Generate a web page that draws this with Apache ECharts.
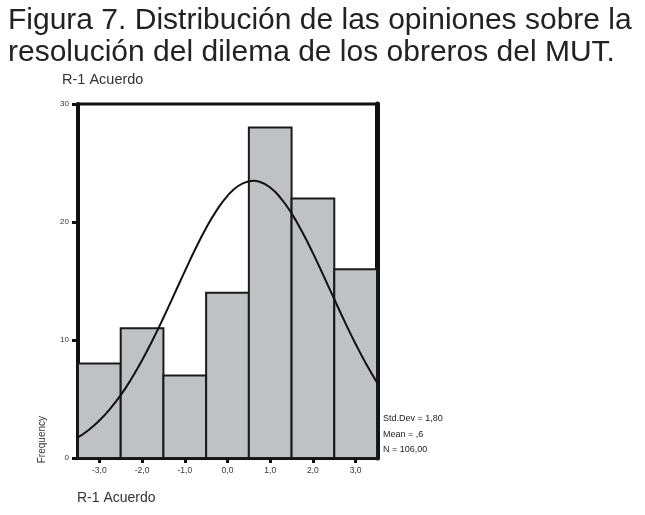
<!DOCTYPE html>
<html><head><meta charset="utf-8">
<script src="https://cdn.jsdelivr.net/npm/echarts@6/dist/echarts.min.js"></script>
<style>html,body{margin:0;padding:0;background:#fff}#c{width:645px;height:515px}</style>
</head><body><div id="c"></div>
<script>
const titleLines = ['Figura 7. Distribución de las opiniones sobre la', 'resolución del dilema de los obreros del MUT.'];
const subTitle = 'R-1 Acuerdo';
const xAxisTitle = 'R-1 Acuerdo';
const yAxisTitle = 'Frequency';
const binCenters = [-3, -2, -1, 0, 1, 2, 3];
const frequencies = [8, 11, 7, 14, 28, 22, 16];
const curveX = [-3.5,-3.25,-3,-2.75,-2.5,-2.25,-2,-1.75,-1.5,-1.25,-1,-0.75,-0.5,-0.25,0,0.25,0.5,0.6,0.75,1,1.25,1.5,1.75,2,2.25,2.5,2.75,3,3.25,3.5];
const curveY = [1.75,2.38,3.18,4.16,5.33,6.71,8.28,10.02,11.89,13.85,15.82,17.73,19.49,21.01,22.22,23.05,23.45,23.49,23.41,22.92,22.01,20.73,19.15,17.36,15.43,13.46,11.51,9.66,7.95,6.41];
const xTickValues = [-3, -2, -1, 0, 1, 2, 3];
const statsLines = ['Std.Dev = 1,80', 'Mean = ,6', 'N = 106,00'];

const chart = echarts.init(document.getElementById('c'));
const FONT = 'Liberation Sans, Arial, sans-serif';
const option = {
  animation: false,
  backgroundColor: '#fff',
  grid: { left: 78, right: 268, top: 104, bottom: 57, show: true, borderColor: '#111', borderWidth: 3, backgroundColor: 'transparent' },
  xAxis: {
    type: 'value', min: -3.5, max: 3.5,
    splitLine: { show: false },
    axisLine: { show: true, onZero: false, lineStyle: { color: '#111', width: 3 } },
    axisTick: { show: true, customValues: xTickValues, length: 5, lineStyle: { color: '#111', width: 3 } },
    axisLabel: { customValues: xTickValues, fontSize: 8.5, color: '#333', fontFamily: FONT, margin: 8,
      formatter: v => v.toFixed(1).replace('.', ',') }
  },
  yAxis: [
    {
      type: 'value', min: 0, max: 30, interval: 10,
      splitLine: { show: false },
      axisLine: { show: true, onZero: false, lineStyle: { color: '#111', width: 4 } },
      axisTick: { show: true, length: 6, lineStyle: { color: '#111', width: 3 } },
      axisLabel: { fontSize: 8, color: '#333', fontFamily: FONT, margin: 9 }
    },
    {
      type: 'value', min: 0, max: 30, interval: 10, position: 'right',
      splitLine: { show: false },
      axisLine: { show: true, onZero: false, lineStyle: { color: '#111', width: 5 } },
      axisTick: { show: false }, axisLabel: { show: false }
    }
  ],
  series: [
    {
      type: 'custom',
      data: binCenters.map((c, i) => [c, frequencies[i]]),
      renderItem: function (params, api) {
        const c = api.value(0), v = api.value(1);
        const p0 = api.coord([c - 0.5, v]);
        const p1 = api.coord([c + 0.5, 0]);
        return { type: 'rect', shape: { x: p0[0], y: p0[1], width: p1[0] - p0[0], height: p1[1] - p0[1] },
          style: { fill: '#c0c1c5', stroke: '#1a1a1a', lineWidth: 2 } };
      },
      z: 2
    },
    {
      type: 'line', smooth: true, symbol: 'none',
      data: curveX.map((x, i) => [x, curveY[i]]),
      lineStyle: { color: '#111', width: 2 },
      z: 3
    }
  ],
  graphic: [
    { type: 'text', left: 8, top: 5, style: { text: titleLines.join('\n'), fontSize: 30, lineHeight: 32, fill: '#222', fontFamily: FONT } },
    { type: 'text', left: 62, top: 72, style: { text: subTitle, fontSize: 14.5, fill: '#333', fontFamily: FONT } },
    { type: 'text', left: 77, top: 491, style: { text: xAxisTitle, fontSize: 14, fill: '#333', fontFamily: FONT } },
    { type: 'text', left: 37, top: 416, rotation: Math.PI / 2, style: { text: yAxisTitle, fontSize: 10, fill: '#333', fontFamily: FONT } },
    { type: 'text', left: 383, top: 411, style: { text: statsLines.join('\n'), fontSize: 9, lineHeight: 15.5, fill: '#222', fontFamily: FONT } }
  ]
};
chart.setOption(option);
</script></body></html>
